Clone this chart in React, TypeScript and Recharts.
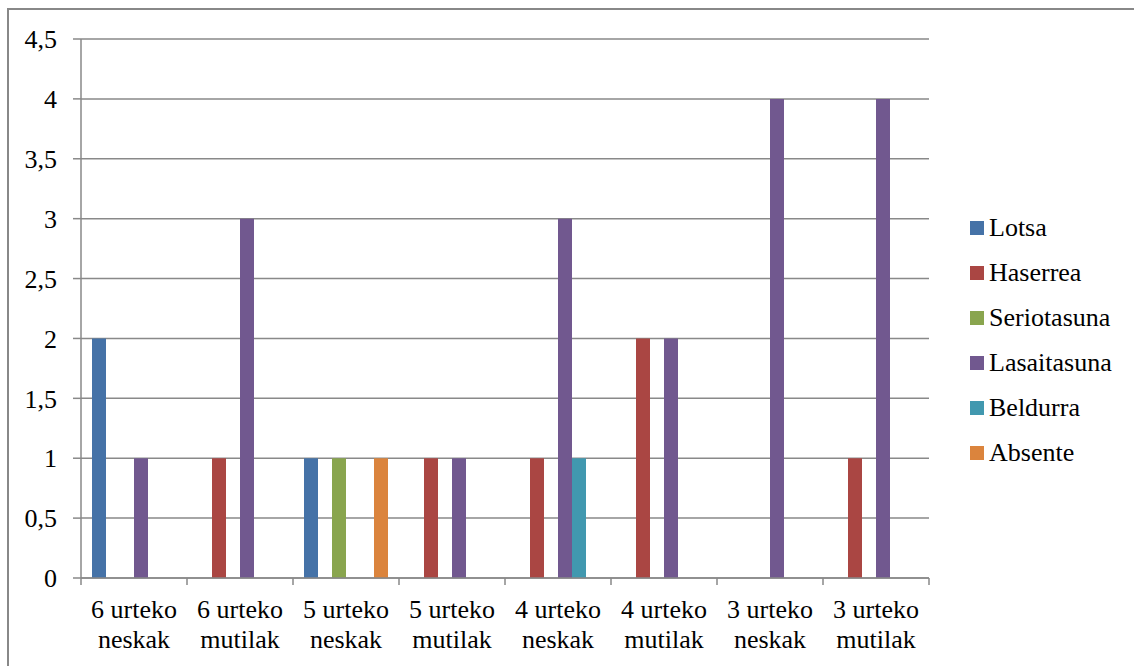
import React from 'react';
import { BarChart, Bar, XAxis, YAxis, CartesianGrid, Legend } from 'recharts';

const categories = [
  '6 urteko neskak',
  '6 urteko mutilak',
  '5 urteko neskak',
  '5 urteko mutilak',
  '4 urteko neskak',
  '4 urteko mutilak',
  '3 urteko neskak',
  '3 urteko mutilak',
];

const lotsa = [2, 0, 1, 0, 0, 0, 0, 0];
const haserrea = [0, 1, 0, 1, 1, 2, 0, 1];
const seriotasuna = [0, 0, 1, 0, 0, 0, 0, 0];
const lasaitasuna = [1, 3, 0, 1, 3, 2, 4, 4];
const beldurra = [0, 0, 0, 0, 1, 0, 0, 0];
const absente = [0, 0, 1, 0, 0, 0, 0, 0];

const yTicks = [0, 0.5, 1, 1.5, 2, 2.5, 3, 3.5, 4, 4.5];

const series = [
  { key: 'Lotsa', values: lotsa, color: '#4572A7' },
  { key: 'Haserrea', values: haserrea, color: '#AA4643' },
  { key: 'Seriotasuna', values: seriotasuna, color: '#89A54E' },
  { key: 'Lasaitasuna', values: lasaitasuna, color: '#71588F' },
  { key: 'Beldurra', values: beldurra, color: '#4198AF' },
  { key: 'Absente', values: absente, color: '#DB843D' },
];

const data = categories.map((name, i) => {
  const row: Record<string, string | number> = { name };
  series.forEach((s) => {
    row[s.key] = s.values[i];
  });
  return row;
});

const FONT = 'Liberation Serif, Tinos, Times New Roman, DejaVu Serif, serif';
const GRID = '#898989';
const BAND = 106;

const CategoryTick = (props: any) => {
  const { x, y, payload, index } = props;
  const label: string = payload.value;
  const cut = label.lastIndexOf(' ');
  const lines = [label.slice(0, cut), label.slice(cut + 1)];
  return (
    <g>
      <line x1={x - BAND / 2} y1={y} x2={x - BAND / 2} y2={y + 7} stroke={GRID} strokeWidth={1.5} />
      {index === categories.length - 1 && (
        <line x1={x + BAND / 2} y1={y} x2={x + BAND / 2} y2={y + 7} stroke={GRID} strokeWidth={1.5} />
      )}
      <text x={x} y={y + 40} textAnchor="middle" style={{ fontFamily: FONT }} fontSize={26} fill="#000">
        {lines[0]}
      </text>
      <text x={x} y={y + 70} textAnchor="middle" style={{ fontFamily: FONT }} fontSize={26} fill="#000">
        {lines[1]}
      </text>
    </g>
  );
};

const order = series.map((s) => s.key);

const LegendContent = (props: any) => {
  const items = [...(props.payload || [])].sort(
    (a: any, b: any) => order.indexOf(a.value) - order.indexOf(b.value)
  );
  return (
    <div style={{ width: 160, fontFamily: FONT, fontSize: 26, color: '#000' }}>
      {items.map((p: any) => (
        <div key={p.value} style={{ height: 45, display: 'flex', alignItems: 'center' }}>
          <span style={{ width: 14, height: 14, background: p.color, marginRight: 5, display: 'inline-block' }} />
          <span>{p.value}</span>
        </div>
      ))}
    </div>
  );
};

export default function App() {
  return (
    <div style={{ position: 'absolute', left: 0, top: 0, width: 1134, height: 666, overflow: 'hidden', background: '#fff', fontFamily: FONT }}>
      <div
        style={{
          position: 'absolute',
          left: 7,
          top: 8,
          width: 1150,
          height: 680,
          border: '2px solid #888',
          boxSizing: 'border-box',
        }}
      />
      <div style={{ position: 'absolute', left: 0, top: 0 }}>
        <BarChart
          width={1134}
          height={666}
          data={data}
          margin={{ top: 39, right: 45, bottom: 8, left: 0 }}
          barCategoryGap={11}
          barGap={0}
        >
          <CartesianGrid vertical={false} stroke={GRID} strokeWidth={1.5} />
          <XAxis
            dataKey="name"
            height={80}
            tickLine={false}
            tickSize={0}
            tickMargin={0}
            interval={0}
            axisLine={{ stroke: GRID, strokeWidth: 1.5 }}
            tick={<CategoryTick />}
          />
          <YAxis
            width={81}
            domain={[0, 4.5]}
            ticks={yTicks}
            interval={0}
            tickSize={8}
            tickMargin={16}
            tickLine={{ stroke: GRID, strokeWidth: 1.5 }}
            axisLine={{ stroke: GRID, strokeWidth: 1.5 }}
            tickFormatter={(v: number) => String(v).replace('.', ',')}
            tick={{ style: { fontFamily: FONT }, fontSize: 26, fill: '#000' }}
          />
          <Legend
            layout="vertical"
            align="right"
            verticalAlign="middle"
            wrapperStyle={{ left: 970, top: 205, width: 160 }}
            content={<LegendContent />}
          />
          {series.map((s) => (
            <Bar key={s.key} dataKey={s.key} fill={s.color} isAnimationActive={false} />
          ))}
        </BarChart>
      </div>
    </div>
  );
}
